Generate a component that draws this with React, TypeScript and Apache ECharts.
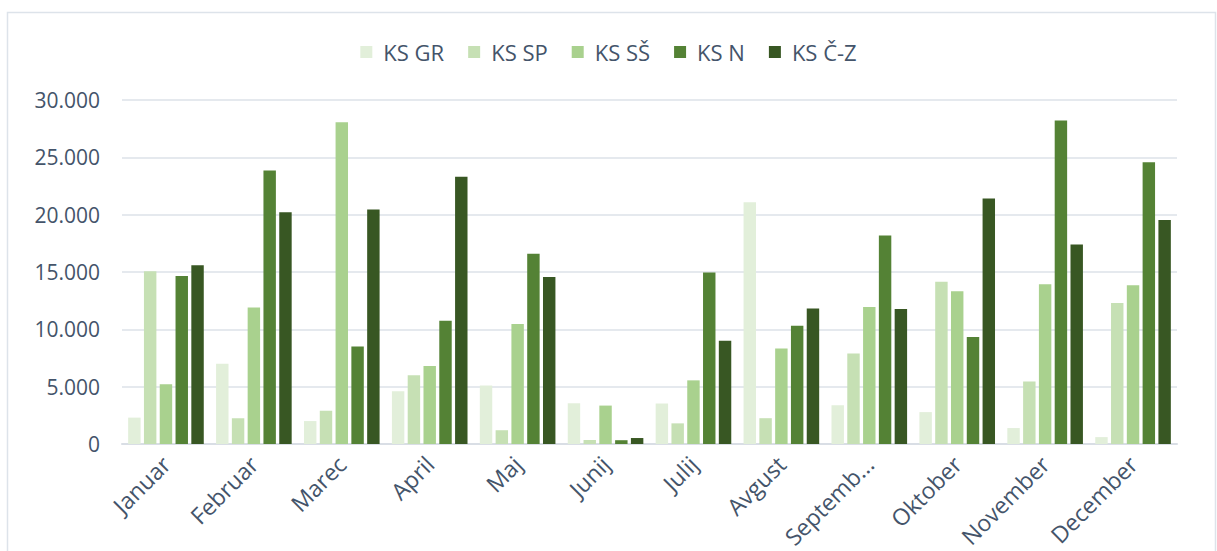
import React, { useEffect, useRef } from "react";
import * as echarts from "echarts";

const categories = ["Januar", "Februar", "Marec", "April", "Maj", "Junij", "Julij", "Avgust", "September", "Oktober", "November", "December"];
const seriesNames = ["KS GR", "KS SP", "KS SŠ", "KS N", "KS Č-Z"];
const colors = ["#e2efda", "#c6e0b4", "#a9d18e", "#548235", "#385723"];
const ksGR = [2300, 7000, 2000, 4600, 5100, 3550, 3530, 21080, 3380, 2780, 1390, 600];
const ksSP = [15060, 2250, 2900, 6000, 1200, 350, 1800, 2250, 7900, 14140, 5460, 12290];
const ksSS = [5200, 11900, 28050, 6800, 10470, 3350, 5550, 8330, 11940, 13330, 13930, 13850];
const ksN = [14650, 23850, 8500, 10750, 16600, 330, 14950, 10320, 18180, 9340, 28210, 24570];
const ksCZ = [15580, 20200, 20450, 23300, 14570, 520, 9000, 11820, 11770, 21420, 17400, 19540];
const seriesData = [ksGR, ksSP, ksSS, ksN, ksCZ];

const textColor = "#44546a";
const font = "'Open Sans', sans-serif";

export default function App() {
  const ref = useRef<HTMLDivElement>(null);
  useEffect(() => {
    if (!ref.current) return;
    const chart = echarts.init(ref.current, null, { renderer: "svg" });
    chart.setOption({
      animation: false,
      backgroundColor: "#ffffff",
      graphic: [
        {
          type: "rect",
          shape: { x: 7.5, y: 12.5, width: 1208, height: 600 },
          style: { fill: "none", stroke: "#dde3ea", lineWidth: 1.5 },
          silent: true,
        },
      ],
      legend: {
        top: 36,
        left: "center",
        itemWidth: 12,
        itemHeight: 12,
        itemGap: 24,
        icon: "rect",
        textStyle: { color: textColor, fontSize: 22, fontFamily: font, padding: [0, 0, 0, 6] },
        data: seriesNames,
      },
      grid: { left: 122, right: 40, top: 100, bottom: 105, containLabel: false },
      xAxis: {
        type: "category",
        data: categories,
        axisLine: { lineStyle: { color: "#d9dee5", width: 2 } },
        axisTick: { show: false },
        axisLabel: {
          rotate: 45,
          color: textColor,
          fontSize: 23,
          fontFamily: font,
          margin: 16,
          interval: 0,
          formatter: (v: string) => (v.length > 8 ? v.slice(0, 7) + "..." : v),
        },
      },
      yAxis: {
        type: "value",
        min: 0,
        max: 30000,
        interval: 5000,
        axisLine: { show: false },
        axisTick: { show: false },
        splitLine: { lineStyle: { color: "#dde2e9", width: 1.5 } },
        axisLabel: {
          color: textColor,
          fontSize: 21,
          fontFamily: font,
          margin: 22,
          formatter: (v: number) => (v === 0 ? "0" : (v / 1000).toFixed(0) + ".000"),
        },
      },
      series: seriesNames.map((name, i) => ({
        name,
        type: "bar",
        data: seriesData[i],
        barGap: "27%",
        barCategoryGap: "14%",
        itemStyle: { color: colors[i] },
      })),
    });
    return () => chart.dispose();
  }, []);
  return <div ref={ref} style={{ position: "fixed", left: 0, top: 0, width: 1217, height: 551 }} />;
}
